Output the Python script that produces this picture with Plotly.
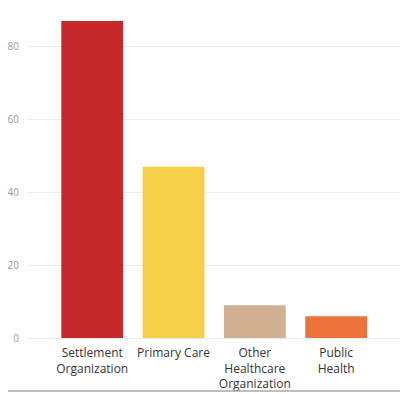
import plotly.graph_objects as go

categories = ["Settlement<br>Organization", "Primary Care", "Other<br>Healthcare<br>Organization", "Public<br>Health"]
values = [87, 47, 9, 6]
colors = ["#C4282A", "#F6CF48", "#D2B093", "#EC733B"]
y_ticks = [0, 20, 40, 60, 80]

fig = go.Figure(go.Bar(
    x=categories, y=values, marker=dict(color=colors, line=dict(width=0)),
    width=0.76,
))

# page body has an 8px margin; figure sized to fit the remaining window
W, H = 400, 386
ml, mr, mt, mb = 20, 6, 2, 56
pw = W - ml - mr
ph = H - mt - mb

fig.update_layout(
    width=W, height=H,
    margin=dict(l=ml, r=mr, t=mt, b=mb, autoexpand=False),
    paper_bgcolor="white", plot_bgcolor="white",
    showlegend=False,
    font=dict(family="Open Sans, Noto Sans, sans-serif"),
)
fig.update_xaxes(
    range=[-0.79, 3.81], showgrid=False, showline=False, ticks="", automargin=False,
    tickfont=dict(size=12, color="#333333"), ticklabelstandoff=6,
)
fig.update_yaxes(
    range=[0, 90], tickvals=y_ticks, showgrid=True, gridcolor="#ececec", gridwidth=1,
    zeroline=True, zerolinecolor="#ececec", zerolinewidth=1, automargin=False,
    showline=False, ticks="", tickfont=dict(size=10, color="#999999"), ticklabelstandoff=8,
)

# card border (right and bottom)
x1 = (396 - ml) / pw
yb = (mt + ph - 383) / ph
ytop = (mt + ph) / ph
fig.add_shape(type="line", xref="paper", yref="paper", x0=-0.2, x1=x1, y0=yb, y1=yb,
              line=dict(color="#a8a8a8", width=1.5))
fig.add_shape(type="line", xref="paper", yref="paper", x0=x1, x1=x1, y0=yb, y1=ytop,
              line=dict(color="#a8a8a8", width=1.5))

fig.write_html("out.html")
